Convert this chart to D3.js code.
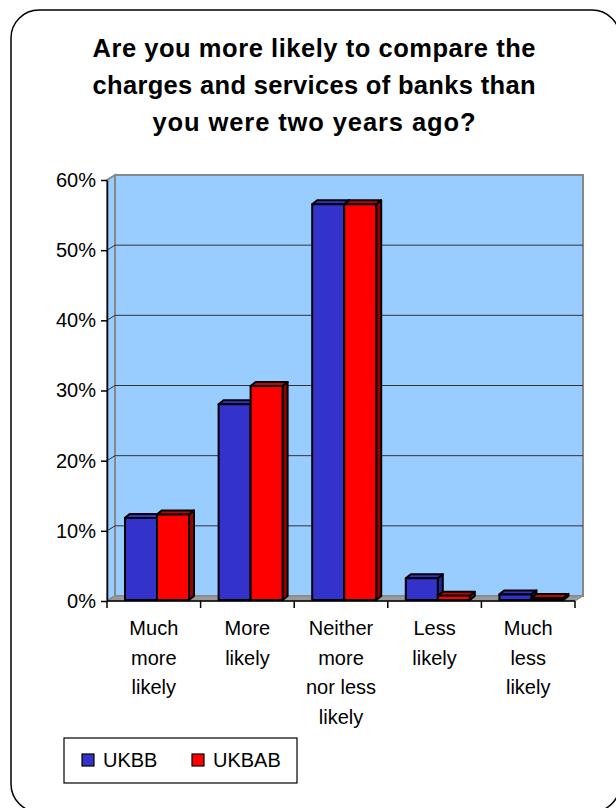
<!DOCTYPE html>
<html>
<head>
<meta charset="utf-8">
<script src="https://cdn.jsdelivr.net/npm/d3@7/dist/d3.min.js"></script>
<style>
  html, body { margin: 0; padding: 0; background: #fff; }
  svg { display: block; font-family: "Liberation Sans", Arial, sans-serif; }
</style>
</head>
<body>
<svg id="chart" width="616" height="808"></svg>
<script>
// Survey answers and the two sample groups
const categories = ["Much more likely", "More likely", "Neither more nor less likely", "Less likely", "Much less likely"];
const categoryLines = [["Much", "more", "likely"], ["More", "likely"], ["Neither", "more", "nor less", "likely"], ["Less", "likely"], ["Much", "less", "likely"]];
const seriesNames = ["UKBB", "UKBAB"];
const ukbbValues = [0.117, 0.279, 0.564, 0.031, 0.008];
const ukbabValues = [0.122, 0.305, 0.564, 0.006, 0.003];
const yTicks = [0, 0.1, 0.2, 0.3, 0.4, 0.5, 0.6];
const titleLines = ["Are you more likely to compare the", "charges and services of banks than", "you were two years ago?"];
const titleWidths = [443, 443, 323];

const seriesColors = {
  UKBB: { front: "#3333CC", top: "#3333CC", side: "#26269A" },
  UKBAB: { front: "#FF0000", top: "#CC0000", side: "#990000" }
};

const svg = d3.select("#chart");

// Frame
svg.append("rect")
  .attr("x", 11).attr("y", 10).attr("width", 609).attr("height", 802)
  .attr("rx", 28).attr("ry", 28)
  .attr("fill", "#fff").attr("stroke", "#000").attr("stroke-width", 1.5);

// Title
svg.append("g").selectAll("text").data(titleLines).join("text")
  .attr("x", 314).attr("y", (d, i) => 57 + i * 37)
  .attr("text-anchor", "middle")
  .attr("font-weight", "bold").attr("font-size", 25.5)
  .attr("textLength", (d, i) => titleWidths[i])
  .attr("lengthAdjust", "spacing")
  .text(d => d);

// Scales
const x = d3.scaleBand().domain(categories).range([107, 575]).paddingInner(0).paddingOuter(0);
const xs = d3.scaleBand().domain(seriesNames).range([17, 81]);
const y = d3.scaleLinear().domain([0, 0.6]).range([601, 180]);

// 3D offsets of the wall and of the columns
const wall = { dx: 8, dy: -5 };
const bar = { dx: 5, dy: -4 };
const [xL, xR] = x.range();
const yBase = y(0), yTop = y(0.6);

const walls = svg.append("g");
// back wall
walls.append("polygon")
  .attr("points", [[xL + wall.dx, yTop + wall.dy], [xR + wall.dx, yTop + wall.dy], [xR + wall.dx, yBase + wall.dy], [xL + wall.dx, yBase + wall.dy]].join(" "))
  .attr("fill", "#99CCFF").attr("stroke", "#888").attr("stroke-width", 2);
// side wall
walls.append("polygon")
  .attr("points", [[xL, yTop], [xL + wall.dx, yTop + wall.dy], [xL + wall.dx, yBase + wall.dy], [xL, yBase]].join(" "))
  .attr("fill", "#99CCFF").attr("stroke", "#888").attr("stroke-width", 2);
// floor
walls.append("polygon")
  .attr("points", [[xL, yBase], [xR, yBase], [xR + wall.dx, yBase + wall.dy], [xL + wall.dx, yBase + wall.dy]].join(" "))
  .attr("fill", "#999999").attr("stroke", "#888").attr("stroke-width", 1);

// gridlines on the back and side walls
const grid = svg.append("g").attr("stroke", "#333").attr("stroke-width", 1).attr("fill", "none");
yTicks.filter(t => t > 0 && t < 0.6).forEach(t => {
  grid.append("path")
    .attr("d", `M${xL},${y(t)}L${xL + wall.dx},${y(t) + wall.dy}L${xR + wall.dx},${y(t) + wall.dy}`);
});

// Columns
const barsG = svg.append("g");
const seriesData = { UKBB: ukbbValues, UKBAB: ukbabValues };
categories.forEach((c, ci) => {
  seriesNames.forEach(s => {
    const v = seriesData[s][ci];
    const col = seriesColors[s];
    const x0 = x(c) + xs(s) + 1;
    const x1 = x0 + xs.bandwidth();
    const yb = y(0) - 1;
    const yt = y(v) - 1;
    const g = barsG.append("g").attr("stroke", "#000").attr("stroke-width", 2).attr("stroke-linejoin", "round");
    g.append("polygon")
      .attr("points", [[x1, yt], [x1 + bar.dx, yt + bar.dy], [x1 + bar.dx, yb + bar.dy], [x1, yb]].join(" "))
      .attr("fill", col.side);
    g.append("polygon")
      .attr("points", [[x0, yt], [x0 + bar.dx, yt + bar.dy], [x1 + bar.dx, yt + bar.dy], [x1, yt]].join(" "))
      .attr("fill", col.top);
    g.append("rect")
      .attr("x", x0).attr("y", yt).attr("width", x1 - x0).attr("height", Math.max(0, yb - yt))
      .attr("fill", col.front);
  });
});

// Y axis
const yAxis = svg.append("g").attr("transform", `translate(${xL},0)`)
  .call(d3.axisLeft(y).tickValues(yTicks).tickFormat(d3.format(".0%")).tickSize(6).tickSizeOuter(0).tickPadding(5));
yAxis.select(".domain").attr("stroke", "#000").attr("stroke-width", 1.5);
yAxis.selectAll(".tick line").attr("stroke", "#000").attr("stroke-width", 1.5);
yAxis.selectAll(".tick text").attr("font-size", 20).attr("font-family", "'Liberation Sans', Arial, sans-serif").attr("fill", "#000");

// X axis line and ticks at category boundaries
const xAxis = svg.append("g").attr("stroke", "#000").attr("stroke-width", 1.5);
xAxis.append("line").attr("x1", xL).attr("x2", xR).attr("y1", yBase).attr("y2", yBase);
categories.concat([null]).forEach((c, i) => {
  const xp = c === null ? xR : x(c);
  xAxis.append("line").attr("x1", xp).attr("x2", xp).attr("y1", yBase).attr("y2", yBase + 7);
});

// Category labels
const labels = svg.append("g").attr("font-size", 20).attr("text-anchor", "middle");
categories.forEach((c, i) => {
  const t = labels.append("text").attr("x", x(c) + x.bandwidth() / 2).attr("y", 635);
  categoryLines[i].forEach((ln, j) => {
    t.append("tspan").attr("x", x(c) + x.bandwidth() / 2).attr("y", 635 + j * 29.7).text(ln);
  });
});

// Legend
const legend = svg.append("g");
legend.append("rect").attr("x", 64).attr("y", 738).attr("width", 233).attr("height", 45)
  .attr("fill", "#fff").attr("stroke", "#000").attr("stroke-width", 1.2);
const legendX = [82, 192];
seriesNames.forEach((s, i) => {
  legend.append("rect").attr("x", legendX[i]).attr("y", 754).attr("width", 12).attr("height", 12)
    .attr("fill", seriesColors[s].front).attr("stroke", "#000").attr("stroke-width", 1.2);
  legend.append("text").attr("x", legendX[i] + 21).attr("y", 767).attr("font-size", 20).text(s);
});
</script>
</body>
</html>
